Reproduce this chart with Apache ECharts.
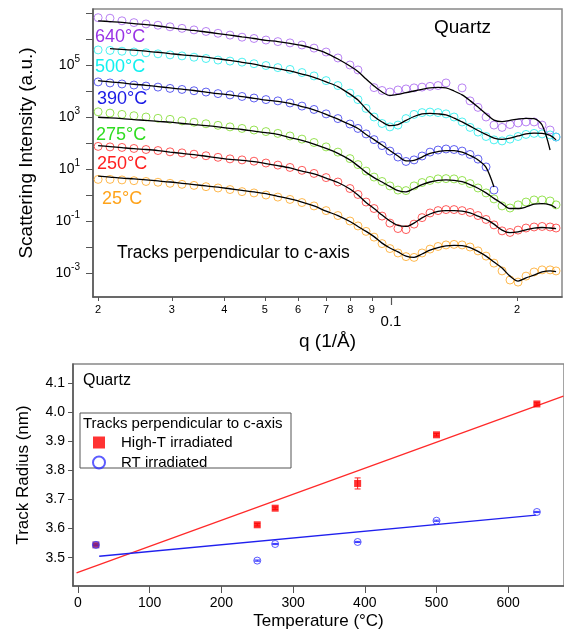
<!DOCTYPE html>
<html>
<head>
<meta charset="utf-8">
<script src="https://cdn.jsdelivr.net/npm/echarts@6/dist/echarts.min.js"></script>
<style>
html, body { margin: 0; padding: 0; background: #fff; }
#chart { width: 564px; height: 635px; }
</style>
</head>
<body>
<div id="chart"></div>
<script>
// q grid (1/Å) shared by all curves
const qValues = [0.02000, 0.02135, 0.02280, 0.02435, 0.02602, 0.02779, 0.02969, 0.03171, 0.03387, 0.03618,
    0.03865, 0.04128, 0.0441, 0.0471, 0.0503, 0.0537, 0.0574, 0.0613, 0.0655, 0.0700, 0.0747, 0.0798,
    0.0834, 0.0872, 0.0911, 0.0952, 0.0994, 0.1039, 0.1086, 0.1135, 0.1186, 0.1239, 0.1295, 0.1353,
    0.1414, 0.1478, 0.1544, 0.1613, 0.1686, 0.1761, 0.1841, 0.1923, 0.2010, 0.2100, 0.2195, 0.2294,
    0.2397, 0.2477];

// intensities as log10(I), measured points and fits
const int640 = [6.82, 6.80, 6.70, 6.63, 6.58, 6.53, 6.47, 6.41, 6.35, 6.29, 6.22, 6.15, 6.07, 6.02, 5.96, 5.90, 5.85, 5.77, 5.65, 5.50, 5.27, 5.00,
    4.81, null, 4.13, 4.02, 3.96, 4.04, 4.08, 4.12, 4.15, 4.18, 4.21, 4.31, null, 4.12, 3.62, 3.37, 3.00, 2.69, 2.60, 2.71, 2.77, 2.81, 2.81, 2.69, 2.50, 2.23];
const fit640 = [6.70, 6.67, 6.64, 6.59, 6.55, 6.50, 6.44, 6.38, 6.33, 6.27, 6.21, 6.15, 6.08, 6.02, 5.95, 5.90, 5.83, 5.75, 5.62, 5.46, 5.23, 4.96,
    4.75, 4.46, 4.19, 3.96, 3.83, 3.87, 3.94, 4.00, 4.06, 4.12, 4.14, 4.12, 4.00, 3.85, 3.63, 3.38, 3.12, 2.88, 2.82, 2.87, 2.92, 2.95, 2.94, 2.69, 1.73, null];
const int500 = [5.58, 5.56, 5.53, 5.50, 5.47, 5.43, 5.39, 5.35, 5.30, 5.25, 5.19, 5.15, 5.11, 5.05, 4.98, 4.90, 4.83, 4.71, 4.58, 4.40, 4.21, 3.92,
    3.67, 3.33, 3.00, 2.75, 2.62, 2.69, 2.94, 3.10, 3.17, 3.19, 3.17, 3.12, 3.00, 2.81, 2.60, 2.42, 2.25, 2.12, 2.08, 2.15, 2.25, 2.33, 2.37, 2.35, 2.31, 2.23];
const fit500 = [null, 5.63, 5.60, 5.57, 5.53, 5.49, 5.44, 5.39, 5.35, 5.30, 5.24, 5.18, 5.10, 5.03, 4.94, 4.86, 4.77, 4.65, 4.52, 4.35, 4.17, 3.88,
    3.65, 3.31, 3.02, 2.81, 2.67, 2.71, 2.87, 3.02, 3.12, 3.14, 3.12, 3.08, 2.96, 2.81, 2.65, 2.48, 2.33, 2.19, 2.14, 2.19, 2.27, 2.35, 2.38, 2.37, 2.29, 2.12];
const int390 = [4.35, 4.31, 4.27, 4.23, 4.19, 4.15, 4.10, 4.06, 4.01, 3.96, 3.90, 3.85, 3.79, 3.73, 3.67, 3.62, 3.54, 3.42, 3.29, 3.12, 2.94, 2.73,
    2.56, 2.35, 2.13, 1.90, 1.69, 1.46, 1.29, 1.35, 1.50, 1.65, 1.73, 1.77, 1.75, 1.69, 1.56, 1.38, 1.08, 0.19, null, null, null, null, null, null, null, null];
const fit390 = [4.40, 4.35, 4.31, 4.26, 4.22, 4.17, 4.12, 4.07, 4.02, 3.96, 3.90, 3.85, 3.78, 3.72, 3.65, 3.60, 3.52, 3.40, 3.27, 3.10, 2.92, 2.71,
    2.56, 2.33, 2.13, 1.92, 1.71, 1.50, 1.31, 1.33, 1.46, 1.60, 1.67, 1.71, 1.71, 1.65, 1.52, 1.35, 1.06, 0.31, null, null, null, null, null, null, null, null];
const int275 = [3.20, 3.15, 3.10, 3.05, 3.00, 2.95, 2.91, 2.85, 2.80, 2.74, 2.68, 2.62, 2.56, 2.50, 2.44, 2.37, 2.27, 2.15, 2.02, 1.85, 1.65, 1.40,
    1.17, 0.92, 0.69, 0.52, 0.35, 0.19, 0.17, 0.35, 0.48, 0.56, 0.62, 0.63, 0.62, 0.56, 0.44, 0.27, 0.08, -0.15, -0.42, -0.50, -0.38, -0.27, -0.19, -0.19, -0.23, -0.38];
const fit275 = [2.99, 2.97, 2.94, 2.90, 2.87, 2.83, 2.80, 2.75, 2.71, 2.67, 2.62, 2.56, 2.52, 2.46, 2.40, 2.33, 2.21, 2.10, 1.96, 1.79, 1.60, 1.35,
    1.12, 0.87, 0.67, 0.50, 0.33, 0.17, 0.12, 0.25, 0.40, 0.50, 0.56, 0.58, 0.56, 0.51, 0.40, 0.26, 0.08, -0.13, -0.33, -0.52, -0.52, -0.46, -0.35, -0.33, -0.38, -0.50];
const int250 = [1.87, 1.85, 1.83, 1.79, 1.75, 1.71, 1.66, 1.62, 1.57, 1.51, 1.45, 1.39, 1.35, 1.30, 1.23, 1.15, 1.06, 0.95, 0.83, 0.67, 0.50, 0.25,
    0.02, -0.27, -0.52, -0.81, -1.08, -1.29, -1.33, -1.12, -0.87, -0.69, -0.60, -0.56, -0.56, -0.60, -0.67, -0.79, -0.94, -1.15, -1.38, -1.44, -1.35, -1.27, -1.23, -1.21, -1.23, -1.27];
const fit250 = [1.90, 1.86, 1.82, 1.78, 1.75, 1.71, 1.65, 1.60, 1.55, 1.49, 1.43, 1.37, 1.33, 1.28, 1.21, 1.13, 1.04, 0.92, 0.81, 0.65, 0.48, 0.23,
    0.00, -0.29, -0.52, -0.77, -1.00, -1.17, -1.21, -1.08, -0.88, -0.73, -0.63, -0.60, -0.60, -0.62, -0.69, -0.81, -0.94, -1.12, -1.35, -1.45, -1.42, -1.34, -1.27, -1.25, -1.27, -1.29];
const int25 = [0.60, 0.60, 0.58, 0.55, 0.52, 0.49, 0.45, 0.41, 0.37, 0.32, 0.27, 0.21, 0.13, 0.08, 0.00, -0.08, -0.17, -0.29, -0.42, -0.60, -0.79, -1.00,
    -1.19, -1.40, -1.62, -1.87, -2.06, -2.23, -2.37, -2.40, -2.23, -2.08, -1.98, -1.92, -1.90, -1.92, -2.00, -2.15, -2.35, -2.62, -2.92, -3.27, -3.35, -3.12, -2.96, -2.88, -2.88, -2.92];
const fit25 = [0.73, 0.69, 0.65, 0.62, 0.58, 0.54, 0.50, 0.45, 0.40, 0.35, 0.30, 0.24, 0.18, 0.12, 0.05, -0.05, -0.15, -0.27, -0.42, -0.62, -0.79, -1.02,
    -1.21, -1.40, -1.60, -1.85, -2.04, -2.19, -2.35, -2.40, -2.27, -2.12, -2.02, -1.96, -1.94, -1.95, -2.02, -2.17, -2.35, -2.58, -2.81, -3.12, -3.31, -3.19, -3.08, -2.96, -2.92, -2.95];

const curveLabels = ['640°C', '500°C', '390°C', '275°C', '250°C', '25°C'];
const qTickValues = [0.02, 0.03, 0.04, 0.05, 0.06, 0.07, 0.08, 0.09, 0.2];
const qTickLabels = ['2', '3', '4', '5', '6', '7', '8', '9', '2'];
const intensityTickExp = [-3, -2, -1, 0, 1, 2, 3, 4, 5, 6, 7];
const intensityLabelExp = [-3, -1, 1, 3, 5];

// lower panel
const temps = [25, 250, 275, 390, 500, 640];
const radiusHighT = [3.544, 3.613, 3.670, 3.755, 3.922, 4.028];
const errHighT = [0.004, 0.004, 0.004, 0.019, 0.004, 0.004];
const radiusRT = [3.544, 3.490, 3.547, 3.554, 3.627, 3.657];
const errRT = [0.002, 0.002, 0.002, 0.002, 0.002, 0.002];
const fitHighT = [[-2, 3.448], [677, 4.055]];
const fitRT = [[29.6, 3.505], [638.9, 3.646]];
const tempTicks = [0, 100, 200, 300, 400, 500, 600];
const radiusTicks = [3.5, 3.6, 3.7, 3.8, 3.9, 4.0, 4.1];

const FONT = 'Arial, "Liberation Sans", sans-serif';
const curveStyles = [
    { obs: int640, fit: fit640, circle: '#a864f0', text: '#9933e6', x: 95, y: 37 },
    { obs: int500, fit: fit500, circle: '#22eeee', text: '#11f0f0', x: 95, y: 67 },
    { obs: int390, fit: fit390, circle: '#3a3aee', text: '#1a1ae6', x: 97, y: 99 },
    { obs: int275, fit: fit275, circle: '#7edc2a', text: '#2fdc20', x: 96, y: 135 },
    { obs: int250, fit: fit250, circle: '#ff3434', text: '#ff2020', x: 97, y: 164 },
    { obs: int25, fit: fit25, circle: '#ffa823', text: '#ffa31a', x: 102, y: 199 }
];

function toPairs(values) {
    return qValues.map((q, i) => values[i] == null ? null : [Math.log10(q), values[i]])
        .filter(p => p !== null);
}

function errorBars(color, capHalf) {
    return function (params, api) {
        const x = api.value(0), y = api.value(1), e = api.value(2);
        const lo = api.coord([x, y - e]);
        const hi = api.coord([x, y + e]);
        const st = { stroke: color, lineWidth: 1 };
        return {
            type: 'group',
            children: [
                { type: 'line', shape: { x1: lo[0], y1: lo[1], x2: hi[0], y2: hi[1] }, style: st },
                { type: 'line', shape: { x1: lo[0] - capHalf, y1: lo[1], x2: lo[0] + capHalf, y2: lo[1] }, style: st },
                { type: 'line', shape: { x1: hi[0] - capHalf, y1: hi[1], x2: hi[0] + capHalf, y2: hi[1] }, style: st }
            ]
        };
    };
}

const chart = echarts.init(document.getElementById('chart'));

const series = [];
curveStyles.forEach((c, i) => {
    series.push({
        name: curveLabels[i],
        type: 'scatter',
        xAxisIndex: 0, yAxisIndex: 0,
        symbol: 'circle',
        symbolSize: 8,
        itemStyle: { color: 'rgba(255,255,255,0)', borderColor: c.circle, borderWidth: 1 },
        data: toPairs(c.obs),
        silent: true,
        z: 2
    });
    series.push({
        type: 'line',
        xAxisIndex: 0, yAxisIndex: 0,
        data: toPairs(c.fit),
        showSymbol: false,
        smooth: 0.3,
        lineStyle: { color: '#000', width: 1.3 },
        silent: true,
        z: 3
    });
});

series.push(
    {
        type: 'custom', xAxisIndex: 2, yAxisIndex: 1,
        renderItem: errorBars('#ff2020', 3),
        data: temps.map((t, i) => [t, radiusHighT[i], errHighT[i]]),
        z: 2
    },
    {
        type: 'custom', xAxisIndex: 2, yAxisIndex: 1,
        renderItem: errorBars('#3333ff', 3),
        data: temps.map((t, i) => [t, radiusRT[i], errRT[i]]),
        z: 2
    },
    {
        type: 'line', xAxisIndex: 2, yAxisIndex: 1,
        data: fitHighT, showSymbol: false,
        lineStyle: { color: '#ff2a2a', width: 1.3 }, z: 3
    },
    {
        type: 'line', xAxisIndex: 2, yAxisIndex: 1,
        data: fitRT, showSymbol: false,
        lineStyle: { color: '#2020ee', width: 1.3 }, z: 3
    },
    {
        name: 'High-T irradiated',
        type: 'scatter', xAxisIndex: 2, yAxisIndex: 1,
        symbol: 'rect', symbolSize: 7,
        itemStyle: { color: '#ff0000' },
        data: temps.map((t, i) => i === 0
            ? { value: [t, radiusHighT[i]], itemStyle: { color: '#8a1a72' } }
            : [t, radiusHighT[i]]),
        z: 4
    },
    {
        name: 'RT irradiated',
        type: 'scatter', xAxisIndex: 2, yAxisIndex: 1,
        symbol: 'circle', symbolSize: 7,
        itemStyle: { color: 'rgba(255,255,255,0)', borderColor: '#3333ff', borderWidth: 1 },
        data: temps.map((t, i) => [t, radiusRT[i]]),
        z: 5
    }
);

const axisLineStyle = { color: '#555', width: 1.5 };

const option = {
    animation: false,
    backgroundColor: '#fff',
    textStyle: { fontFamily: FONT },
    grid: [
        { left: 93, top: 9, width: 469, height: 288, show: true, borderColor: '#888', borderWidth: 1.5 },
        { left: 73, top: 364, width: 493, height: 222, show: true, borderColor: '#888', borderWidth: 1.5 }
    ],
    xAxis: [
        {
            gridIndex: 0, type: 'value', min: -1.7112, max: -0.5919,
            axisLine: { onZero: false, lineStyle: axisLineStyle },
            splitLine: { show: false },
            axisTick: { customValues: qTickValues.map(Math.log10), length: 4, lineStyle: { color: '#555' } },
            axisLabel: {
                customValues: qTickValues.map(Math.log10),
                formatter: v => {
                    let best = 0;
                    qTickValues.forEach((q, i) => {
                        if (Math.abs(Math.log10(q) - v) < Math.abs(Math.log10(qTickValues[best]) - v)) best = i;
                    });
                    return qTickLabels[best];
                },
                fontSize: 11, margin: 7, color: '#000', fontFamily: FONT
            },
            name: 'q (1/Å)', nameLocation: 'middle', nameGap: 35,
            nameTextStyle: { fontSize: 19, color: '#000', fontFamily: FONT }
        },
        {
            gridIndex: 0, type: 'value', min: -1.7112, max: -0.5919, position: 'bottom',
            axisLine: { show: false, onZero: false },
            splitLine: { show: false },
            axisTick: { customValues: [Math.log10(0.1)], length: 8, lineStyle: { color: '#555', width: 1.2 } },
            axisLabel: {
                customValues: [Math.log10(0.1)],
                formatter: () => '0.1',
                fontSize: 15, margin: 17, color: '#000', fontFamily: FONT
            }
        },
        {
            gridIndex: 1, type: 'value', min: -6.94, max: 677.8,
            axisLine: { onZero: false, lineStyle: axisLineStyle },
            splitLine: { show: false },
            axisTick: { customValues: tempTicks, length: 7, lineStyle: { color: '#555' } },
            axisLabel: { customValues: tempTicks, fontSize: 14, margin: 10, color: '#000', fontFamily: FONT },
            name: 'Temperature (°C)', nameLocation: 'middle', nameGap: 27,
            nameTextStyle: { fontSize: 17, color: '#000', fontFamily: FONT }
        }
    ],
    yAxis: [
        {
            gridIndex: 0, type: 'value', min: -3.923, max: 7.154,
            axisLine: { show: true, onZero: false, lineStyle: axisLineStyle },
            splitLine: { show: false },
            axisTick: { show: true, customValues: intensityTickExp, length: 7, lineStyle: { color: '#555' } },
            axisLabel: {
                customValues: intensityLabelExp,
                formatter: v => '{b|10}{s|' + Math.round(v) + '}',
                margin: 13,
                rich: {
                    b: { fontSize: 14, lineHeight: 22, color: '#000', fontFamily: FONT },
                    s: { fontSize: 10, lineHeight: 12, verticalAlign: 'top', color: '#000', fontFamily: FONT }
                }
            },
            name: 'Scattering Intensity (a.u.)', nameLocation: 'middle', nameGap: 57,
            nameTextStyle: { fontSize: 19, color: '#000', fontFamily: FONT }
        },
        {
            gridIndex: 1, type: 'value', min: 3.4028, max: 4.1652,
            axisLine: { show: true, onZero: false, lineStyle: axisLineStyle },
            splitLine: { show: false },
            axisTick: { show: true, customValues: radiusTicks, length: 5, lineStyle: { color: '#555' } },
            axisLabel: {
                customValues: radiusTicks,
                formatter: v => v.toFixed(1),
                fontSize: 14, margin: 8, color: '#000', fontFamily: FONT
            },
            name: 'Track Radius (nm)', nameLocation: 'middle', nameGap: 41,
            nameTextStyle: { fontSize: 17, color: '#000', fontFamily: FONT }
        }
    ],
    legend: {
        data: ['High-T irradiated', 'RT irradiated'],
        orient: 'vertical',
        left: 92, top: 435,
        itemWidth: 12, itemHeight: 12, itemGap: 5,
        padding: 0,
        selectedMode: false,
        textStyle: { fontSize: 15, color: '#000', fontFamily: FONT, padding: [0, 0, 0, 11] }
    },
    graphic: [
        ...curveStyles.map((c, i) => ({
            type: 'text', x: c.x, y: c.y, z: 10,
            style: { text: curveLabels[i], fill: c.text, font: '18px ' + FONT, verticalAlign: 'middle' }
        })),
        { type: 'text', x: 434, y: 28, z: 10, style: { text: 'Quartz', fill: '#000', font: '19px ' + FONT, verticalAlign: 'middle' } },
        { type: 'text', x: 117, y: 253, z: 10, style: { text: 'Tracks perpendicular to c-axis', fill: '#000', font: '17.5px ' + FONT, verticalAlign: 'middle' } },
        { type: 'text', x: 83, y: 381, z: 10, style: { text: 'Quartz', fill: '#000', font: '16px ' + FONT, verticalAlign: 'middle' } },
        { type: 'rect', z: 1, shape: { x: 80, y: 413, width: 211, height: 55 }, style: { fill: 'rgba(0,0,0,0)', stroke: '#555', lineWidth: 1 } },
        { type: 'text', x: 83, y: 424, z: 10, style: { text: 'Tracks perpendicular to c-axis', fill: '#000', font: '15px ' + FONT, verticalAlign: 'middle' } }
    ],
    series: series
};

chart.setOption(option);
</script>
</body>
</html>
